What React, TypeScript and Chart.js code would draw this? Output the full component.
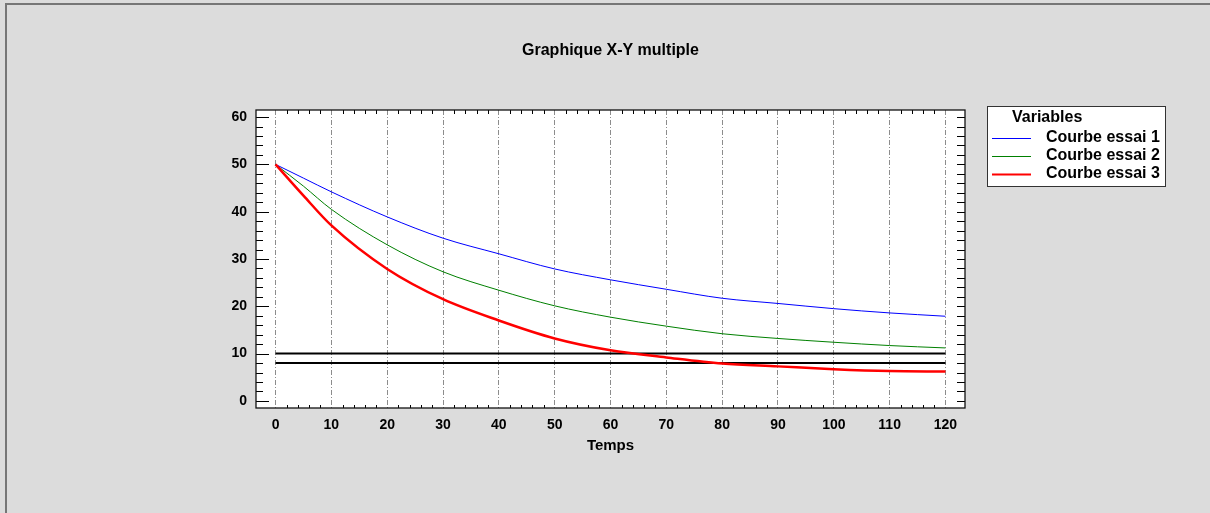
import React, { useEffect, useRef } from "react";
import { Chart, registerables } from "chart.js";

Chart.register(...registerables);

const temps = [0, 5, 10, 20, 30, 40, 50, 60, 70, 80, 90, 100, 110, 120];
const essai1 = [50, 47.1, 44.2, 38.9, 34.4, 31.1, 27.9, 25.6, 23.6, 21.7, 20.6, 19.5, 18.6, 17.9];
const essai2 = [50, 45.4, 40.5, 33.0, 27.3, 23.4, 20.1, 17.7, 15.8, 14.2, 13.2, 12.4, 11.7, 11.2];
const essai3 = [50, 43.4, 37.1, 27.9, 21.5, 17.0, 13.2, 10.7, 9.2, 7.9, 7.3, 6.7, 6.3, 6.2];
const limites = [10, 8];
const seriesLabels = ["Courbe essai 1", "Courbe essai 2", "Courbe essai 3"];
const seriesColors = ["#0000ff", "#008000", "#ff0000"];
const seriesWidths = [1, 1, 2.5];
const legendTitle = "Variables";
const chartTitle = "Graphique X-Y multiple";
const xTitle = "Temps";

const FONT = "'Liberation Sans', Arial, sans-serif";

const bgPlugin = {
  id: "bgPlugin",
  beforeDraw(chart: any) {
    const { ctx, chartArea } = chart;
    ctx.save();
    ctx.fillStyle = "#dcdcdc";
    ctx.fillRect(0, 0, chart.width, chart.height);
    ctx.fillStyle = "#767676";
    ctx.fillRect(5, 3, chart.width - 5, 2);
    ctx.fillRect(5, 3, 2, chart.height - 3);
    ctx.fillStyle = "#ffffff";
    ctx.fillRect(chartArea.left, chartArea.top, chartArea.right - chartArea.left, chartArea.bottom - chartArea.top);
    ctx.restore();
  },
};

const framePlugin = {
  id: "framePlugin",
  afterDraw(chart: any) {
    const { ctx, chartArea } = chart;
    const xs = chart.scales.x;
    const ys = chart.scales.y;
    const L = chartArea.left, R = chartArea.right, T = chartArea.top, B = chartArea.bottom;
    ctx.save();
    ctx.strokeStyle = "#000";
    ctx.lineWidth = 1;
    ctx.beginPath();
    for (let v = 0; v <= 60; v += 2) {
      const y = Math.round(ys.getPixelForValue(v)) + 0.5;
      const major = v % 10 === 0;
      ctx.moveTo(L, y);
      ctx.lineTo(L + (major ? 13 : 7), y);
      ctx.moveTo(R, y);
      ctx.lineTo(R - 8, y);
    }
    for (let v = 0; v <= 120; v += 2) {
      if (v % 10 === 0) continue;
      const x = Math.round(xs.getPixelForValue(v)) + 0.5;
      ctx.moveTo(x, B);
      ctx.lineTo(x, B - 3);
      ctx.moveTo(x, T);
      ctx.lineTo(x, T + 4);
    }
    ctx.stroke();
    ctx.lineWidth = 1.3;
    ctx.strokeStyle = "#111";
    ctx.strokeRect(L, T, R - L, B - T);

    const bx = 987, by = 106, bw = 178, bh = 80;
    ctx.fillStyle = "#ffffff";
    ctx.fillRect(bx, by, bw, bh);
    ctx.lineWidth = 1;
    ctx.strokeStyle = "#333";
    ctx.strokeRect(bx + 0.5, by + 0.5, bw, bh);
    ctx.fillStyle = "#000";
    ctx.font = `bold 16px ${FONT}`;
    ctx.textBaseline = "middle";
    ctx.textAlign = "left";
    ctx.fillText(legendTitle, 1012, 118);
    seriesLabels.forEach((lab, i) => {
      const y = 138 + i * 18;
      ctx.strokeStyle = seriesColors[i];
      ctx.lineWidth = seriesWidths[i] === 1 ? 1 : 2;
      ctx.beginPath();
      ctx.moveTo(992, y + 0.5);
      ctx.lineTo(1031, y + 0.5);
      ctx.stroke();
      ctx.fillStyle = "#000";
      ctx.fillText(lab, 1046, y);
    });
    ctx.restore();
  },
};

export default function App() {
  const ref = useRef<HTMLCanvasElement>(null);
  useEffect(() => {
    if (!ref.current) return;
    const mk = (vals: number[]) => temps.map((t, i) => ({ x: t, y: vals[i] }));
    const serie = [essai1, essai2, essai3];
    const datasets: any[] = serie.map((vals, i) => ({
      label: seriesLabels[i],
      data: mk(vals),
      borderColor: seriesColors[i],
      borderWidth: seriesWidths[i],
      pointRadius: 0,
      fill: false,
      cubicInterpolationMode: "monotone",
      order: 3 - i,
    }));
    limites.forEach((v, i) => {
      datasets.push({
        label: "limite " + v,
        data: [
          { x: temps[0], y: v },
          { x: temps[temps.length - 1], y: v },
        ],
        borderColor: "#000",
        borderWidth: 2,
        pointRadius: 0,
        fill: false,
        order: 4 + i,
      });
    });
    const chart = new Chart(ref.current, {
      type: "line",
      data: { datasets },
      options: {
        animation: false,
        responsive: false,
        devicePixelRatio: 1,
        layout: { padding: { left: 196, right: 245, top: 0, bottom: 55 } },
        plugins: {
          legend: { display: false },
          tooltip: { enabled: false },
          title: {
            display: true,
            text: chartTitle,
            fullSize: false,
            color: "#000",
            font: { family: FONT, size: 16, weight: "bold" },
            padding: { top: 41, bottom: 49.8 },
          },
        },
        scales: {
          x: {
            type: "linear",
            min: -3.5,
            max: 123.5,
            afterFit: (s: any) => {
              s.height = 50;
            },
            ticks: {
              stepSize: 10,
              includeBounds: false,
              color: "#000",
              padding: 9,
              font: { family: FONT, size: 14, weight: "bold" },
              maxRotation: 0,
            },
            grid: {
              drawTicks: false,
              color: "#8c8c8c",
              lineWidth: 1,
            },
            border: { display: false, dash: [5, 2, 1, 2] },
            title: {
              display: true,
              text: xTitle,
              color: "#000",
              font: { family: FONT, size: 15, weight: "bold" },
              padding: { top: 0, bottom: 3 },
            },
          },
          y: {
            type: "linear",
            min: -1.5,
            max: 61.5,
            afterFit: (s: any) => {
              s.width = 60;
            },
            ticks: {
              stepSize: 10,
              includeBounds: false,
              color: "#000",
              padding: 9,
              font: { family: FONT, size: 14, weight: "bold" },
            },
            grid: { display: false, drawTicks: false },
            border: { display: false },
          },
        },
      },
      plugins: [bgPlugin, framePlugin],
    });
    return () => chart.destroy();
  }, []);
  return (
    <div style={{ position: "absolute", left: 0, top: 0, width: 1210, height: 513 }}>
      <canvas ref={ref} width={1210} height={513} style={{ width: 1210, height: 513, display: "block" }} />
    </div>
  );
}
